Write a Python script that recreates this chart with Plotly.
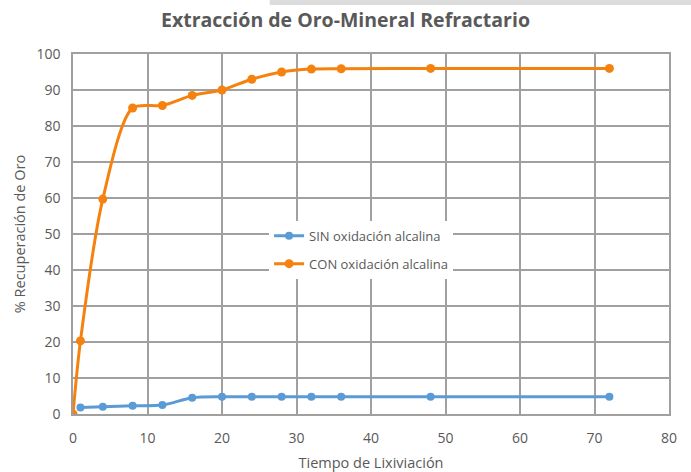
import plotly.graph_objects as go

tiempo_sin = [1, 4, 8, 12, 16, 20, 24, 28, 32, 36, 48, 72]
sin_oxid = [1.8, 2.0, 2.3, 2.5, 4.5, 4.8, 4.8, 4.8, 4.8, 4.8, 4.8, 4.8]
tiempo_con = [0, 1, 4, 8, 12, 16, 20, 24, 28, 32, 36, 48, 72]
con_oxid = [0, 20.3, 59.7, 85.0, 85.7, 88.5, 90.0, 93.0, 95.0, 95.8, 95.9, 96.0, 96.0]

FONT = "Open Sans"
GRAY = "#595959"
GRID = "#a0a0a0"

fig = go.Figure()
fig.add_trace(go.Scatter(
    x=tiempo_sin, y=sin_oxid, name="SIN oxidación alcalina", legendgroup="a",
    mode="lines+markers", line=dict(color="#5b9bd5", width=3, shape="spline", smoothing=0.8),
    marker=dict(size=8, color="#5b9bd5")))
fig.add_trace(go.Scatter(
    x=tiempo_con, y=con_oxid, name="CON oxidación alcalina", legendgroup="b",
    mode="lines+markers", line=dict(color="#f5820f", width=3, shape="spline", smoothing=0.8),
    marker=dict(size=9, color="#f5820f")))

fig.update_layout(
    width=691, height=472,
    margin=dict(l=73, r=22, t=54, b=58),
    paper_bgcolor="white", plot_bgcolor="white",
    font=dict(family=FONT, size=14, color=GRAY),
    title=dict(text="<b>Extracción de Oro-Mineral Refractario</b>", x=0.5, xanchor="center",
               y=0.957, yanchor="middle", font=dict(family=FONT, size=19.5, color=GRAY)),
    xaxis=dict(range=[0, 80], dtick=10, showgrid=True, gridcolor=GRID, gridwidth=1.5,
               zeroline=False, showline=True, linecolor=GRID, linewidth=1.5, mirror=True,
               ticks="", ticklabelstandoff=10, tickfont=dict(size=14, color=GRAY), automargin=False,
               title=dict(text="Tiempo de Lixiviación", font=dict(size=14.5, color=GRAY), standoff=12)),
    yaxis=dict(range=[0, 100], dtick=10, showgrid=True, gridcolor=GRID, gridwidth=1.5,
               zeroline=False, showline=True, linecolor=GRID, linewidth=1.5, mirror=True,
               ticks="", ticklabelstandoff=8, tickfont=dict(size=14, color=GRAY), automargin=False,
               title=dict(text="% Recuperación de Oro", font=dict(size=14.5, color=GRAY), standoff=7)),
    legend=dict(x=0.329, y=0.456, xanchor="left", yanchor="middle", bgcolor="white",
                font=dict(size=13, color=GRAY), traceorder="grouped", tracegroupgap=8),
    showlegend=True,
)
fig.add_shape(type="rect", xref="paper", yref="paper", x0=0.33, x1=1.05, y0=1.136, y1=1.16,
              line=dict(width=0), fillcolor="#dcdcdc", layer="above")

fig.write_html("out.html", post_script="document.body.style.margin='0';",
               config={"displayModeBar": False})
